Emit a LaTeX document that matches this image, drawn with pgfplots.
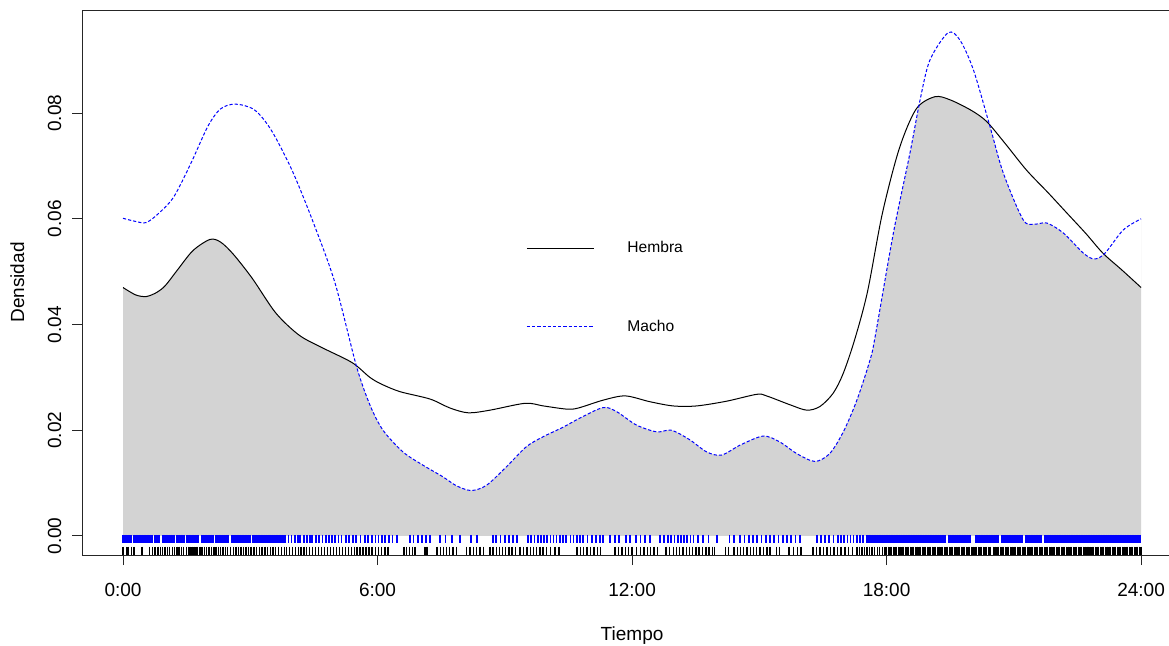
\documentclass[border=0pt]{standalone}
\usepackage{fontspec}
\setmainfont{Liberation Sans}
\usepackage{pgfplots}
\usepackage{pgfplotstable}
\pgfplotsset{compat=1.18}
\usepgfplotslibrary{fillbetween}
\definecolor{olap}{HTML}{D3D3D3}

\pgfplotstableread{
h d
0.00 0.0470
0.30 0.0456
0.55 0.0453
0.80 0.0461
1.00 0.0474
1.30 0.0505
1.65 0.0540
2.05 0.0561
2.30 0.0556
2.60 0.0533
3.05 0.0487
3.60 0.0422
4.15 0.0380
4.70 0.0356
5.40 0.0328
5.82 0.0300
6.10 0.0287
6.53 0.0273
7.24 0.0259
7.71 0.0242
8.14 0.0233
8.65 0.0238
9.48 0.0251
9.91 0.0246
10.46 0.0240
10.73 0.0242
11.32 0.0257
11.84 0.0265
12.42 0.0254
12.97 0.0246
13.52 0.0246
14.23 0.0255
14.94 0.0268
15.17 0.0265
15.73 0.0248
16.12 0.0238
16.43 0.0245
16.74 0.0270
16.98 0.0308
17.25 0.0372
17.55 0.0462
17.90 0.0610
18.30 0.0733
18.70 0.0808
19.14 0.0831
19.50 0.0825
20.00 0.0805
20.36 0.0784
20.80 0.0742
21.30 0.0692
21.80 0.0650
22.25 0.0611
22.70 0.0572
23.10 0.0535
23.55 0.0503
24.00 0.0470
}\hembra

\pgfplotstableread{
h d
0.00 0.0601
0.30 0.0595
0.55 0.0593
0.85 0.0611
1.20 0.0642
1.60 0.0705
2.00 0.0775
2.30 0.0808
2.65 0.0817
3.10 0.0806
3.50 0.0767
4.00 0.0689
4.50 0.0590
5.00 0.0478
5.50 0.0322
5.82 0.0248
6.13 0.0200
6.60 0.0159
7.07 0.0134
7.54 0.0112
7.86 0.0095
8.21 0.0086
8.57 0.0096
9.04 0.0131
9.51 0.0169
9.91 0.0188
10.38 0.0206
10.77 0.0223
11.32 0.0243
11.64 0.0235
12.10 0.0210
12.58 0.0197
12.93 0.0200
13.36 0.0182
13.76 0.0159
14.11 0.0153
14.55 0.0172
15.09 0.0189
15.48 0.0178
15.88 0.0156
16.31 0.0141
16.66 0.0156
16.98 0.0197
17.30 0.0257
17.61 0.0333
17.73 0.0377
18.16 0.0573
18.55 0.0724
18.79 0.0825
19.02 0.0900
19.45 0.0952
19.73 0.0938
20.05 0.0881
20.44 0.0774
20.75 0.0687
21.22 0.0598
21.50 0.0590
21.78 0.0592
22.17 0.0573
22.64 0.0535
22.90 0.0524
23.15 0.0535
23.58 0.0579
24.00 0.0600
}\macho

\pgfplotstableread[row sep=\\]{h\\
0.00\\0.04\\0.07\\0.11\\0.15\\0.19\\0.26\\0.30\\0.34\\0.37\\0.41\\0.45\\0.49\\0.52\\0.56\\0.60\\0.64\\0.68\\0.75\\0.79\\0.83\\0.86\\0.94\\0.98\\1.02\\1.05\\1.09\\1.13\\1.17\\1.21\\1.28\\1.32\\1.36\\1.40\\1.43\\1.51\\1.55\\1.58\\1.62\\1.66\\1.70\\1.74\\1.77\\1.85\\1.89\\1.93\\1.96\\2.00\\2.04\\2.08\\2.12\\2.19\\2.23\\2.27\\2.30\\2.34\\2.38\\2.42\\2.46\\2.49\\2.57\\2.61\\2.65\\2.68\\2.72\\2.76\\2.80\\2.84\\2.87\\2.91\\2.95\\2.99\\3.06\\3.10\\3.14\\3.18\\3.22\\3.25\\3.29\\3.33\\3.37\\3.41\\3.44\\3.48\\3.52\\3.56\\3.60\\3.63\\3.67\\3.71\\3.75\\3.79\\3.83\\3.90\\3.97\\4.05\\4.12\\4.18\\4.26\\4.33\\4.40\\4.46\\4.55\\4.62\\4.70\\4.78\\4.86\\4.92\\5.00\\5.08\\5.15\\5.25\\5.33\\5.42\\5.50\\5.60\\5.70\\5.78\\5.87\\5.95\\6.02\\6.10\\6.18\\6.27\\6.35\\6.46\\6.77\\6.85\\6.95\\7.05\\7.15\\7.24\\7.47\\7.60\\7.75\\7.95\\8.20\\8.34\\8.72\\8.80\\8.90\\9.00\\9.10\\9.20\\9.29\\9.55\\9.62\\9.70\\9.78\\9.85\\9.92\\10.00\\10.08\\10.15\\10.22\\10.30\\10.38\\10.45\\10.55\\10.62\\10.70\\10.77\\10.85\\10.95\\11.05\\11.15\\11.25\\11.32\\11.48\\11.60\\11.70\\11.85\\11.95\\12.10\\12.20\\12.30\\12.42\\12.66\\12.75\\12.85\\12.92\\13.00\\13.08\\13.15\\13.22\\13.30\\13.38\\13.45\\13.56\\13.67\\13.80\\14.00\\14.30\\14.40\\14.55\\14.65\\14.75\\14.85\\14.95\\15.05\\15.15\\15.25\\15.35\\15.45\\15.55\\15.65\\15.75\\15.85\\15.96\\16.36\\16.45\\16.55\\16.65\\16.75\\16.85\\16.92\\17.00\\17.08\\17.15\\17.22\\17.30\\17.38\\17.45\\17.54\\17.58\\17.62\\17.66\\17.70\\17.74\\17.78\\17.82\\17.86\\17.90\\17.94\\17.98\\18.02\\18.06\\18.10\\18.14\\18.18\\18.22\\18.26\\18.30\\18.34\\18.38\\18.42\\18.46\\18.50\\18.54\\18.58\\18.62\\18.66\\18.70\\18.74\\18.78\\18.82\\18.86\\18.90\\18.94\\18.98\\19.02\\19.06\\19.10\\19.14\\19.18\\19.22\\19.26\\19.30\\19.34\\19.38\\19.46\\19.50\\19.54\\19.58\\19.62\\19.66\\19.70\\19.74\\19.78\\19.82\\19.86\\19.90\\19.94\\19.98\\20.10\\20.14\\20.18\\20.22\\20.26\\20.30\\20.34\\20.38\\20.42\\20.46\\20.50\\20.54\\20.58\\20.62\\20.72\\20.76\\20.80\\20.84\\20.88\\20.92\\20.96\\21.00\\21.04\\21.08\\21.12\\21.16\\21.20\\21.28\\21.32\\21.36\\21.40\\21.44\\21.48\\21.52\\21.56\\21.60\\21.64\\21.74\\21.78\\21.82\\21.86\\21.90\\21.94\\21.98\\22.02\\22.06\\22.10\\22.14\\22.18\\22.22\\22.26\\22.30\\22.34\\22.38\\22.42\\22.46\\22.50\\22.54\\22.58\\22.62\\22.66\\22.70\\22.74\\22.78\\22.82\\22.86\\22.90\\22.94\\22.98\\23.02\\23.06\\23.10\\23.14\\23.18\\23.22\\23.26\\23.30\\23.34\\23.38\\23.42\\23.46\\23.50\\23.54\\23.58\\23.62\\23.66\\23.70\\23.74\\23.78\\23.82\\23.86\\23.90\\23.94\\23.98\\}\rugmacho

\pgfplotstableread[row sep=\\]{h\\
0.00\\0.08\\0.12\\0.20\\0.26\\0.45\\0.62\\0.70\\0.75\\0.82\\0.88\\0.93\\0.99\\1.05\\1.10\\1.16\\1.21\\1.27\\1.32\\1.38\\1.43\\1.49\\1.54\\1.58\\1.63\\1.67\\1.72\\1.76\\1.81\\1.86\\1.92\\1.97\\2.03\\2.08\\2.14\\2.19\\2.25\\2.30\\2.36\\2.42\\2.47\\2.53\\2.60\\2.66\\2.72\\2.78\\2.84\\2.90\\2.96\\3.02\\3.09\\3.15\\3.22\\3.28\\3.35\\3.41\\3.48\\3.54\\3.60\\3.67\\3.73\\3.80\\3.86\\3.93\\4.00\\4.06\\4.13\\4.20\\4.27\\4.33\\4.40\\4.47\\4.54\\4.61\\4.68\\4.75\\4.82\\4.89\\4.96\\5.03\\5.10\\5.17\\5.24\\5.31\\5.38\\5.45\\5.52\\5.59\\5.66\\5.73\\5.80\\5.87\\5.95\\6.02\\6.10\\6.18\\6.25\\6.62\\6.68\\6.75\\6.82\\6.88\\7.10\\7.14\\7.18\\7.40\\7.48\\7.55\\7.63\\7.70\\7.78\\7.86\\8.10\\8.18\\8.26\\8.33\\8.42\\8.50\\8.65\\8.72\\8.80\\8.87\\8.95\\9.02\\9.10\\9.17\\9.25\\9.36\\9.44\\9.52\\9.60\\9.68\\9.75\\9.83\\9.90\\9.99\\10.08\\10.18\\10.28\\10.70\\10.78\\10.86\\10.94\\11.02\\11.10\\11.18\\11.26\\11.60\\11.68\\11.76\\11.84\\11.92\\12.00\\12.10\\12.20\\12.28\\12.36\\12.44\\12.52\\12.60\\12.80\\12.88\\12.97\\13.05\\13.12\\13.20\\13.28\\13.35\\13.43\\13.51\\13.58\\13.66\\13.74\\13.81\\13.89\\13.95\\14.20\\14.28\\14.40\\14.48\\14.56\\14.63\\14.71\\14.79\\14.86\\14.94\\15.02\\15.10\\15.18\\15.25\\15.40\\15.48\\15.70\\15.80\\15.90\\15.98\\16.27\\16.35\\16.43\\16.51\\16.60\\16.68\\16.76\\16.85\\16.93\\17.02\\17.10\\17.20\\17.30\\17.36\\17.42\\17.48\\17.54\\17.60\\17.66\\17.72\\17.78\\17.84\\17.90\\17.96\\18.00\\18.04\\18.08\\18.12\\18.16\\18.20\\18.24\\18.28\\18.32\\18.36\\18.40\\18.44\\18.48\\18.52\\18.56\\18.60\\18.64\\18.68\\18.72\\18.76\\18.80\\18.84\\18.88\\18.92\\18.96\\19.00\\19.04\\19.08\\19.12\\19.16\\19.20\\19.24\\19.28\\19.32\\19.36\\19.40\\19.44\\19.48\\19.52\\19.56\\19.60\\19.64\\19.68\\19.72\\19.76\\19.80\\19.84\\19.88\\19.92\\19.96\\20.00\\20.04\\20.08\\20.12\\20.16\\20.20\\20.24\\20.28\\20.32\\20.36\\20.40\\20.44\\20.52\\20.56\\20.60\\20.64\\20.68\\20.72\\20.76\\20.80\\20.84\\20.88\\20.92\\20.96\\21.00\\21.04\\21.08\\21.12\\21.16\\21.20\\21.24\\21.28\\21.32\\21.36\\21.40\\21.44\\21.48\\21.52\\21.56\\21.60\\21.64\\21.68\\21.72\\21.76\\21.80\\21.84\\21.88\\21.92\\21.96\\22.00\\22.04\\22.08\\22.12\\22.16\\22.20\\22.24\\22.28\\22.32\\22.36\\22.40\\22.44\\22.48\\22.52\\22.56\\22.60\\22.64\\22.68\\22.72\\22.76\\22.80\\22.84\\22.88\\22.92\\22.96\\23.00\\23.04\\23.08\\23.12\\23.16\\23.20\\23.24\\23.28\\23.32\\23.36\\23.40\\23.44\\23.48\\23.52\\23.56\\23.60\\23.64\\23.68\\23.72\\23.76\\23.80\\23.84\\23.88\\23.92\\23.96\\24.00\\}\rughembra

\begin{document}
\begin{tikzpicture}
\begin{axis}[
  scale only axis, width=549.76pt, height=272.5pt,
  xmin=-0.96, xmax=24.96, ymin=-0.0036, ymax=0.0995,
  axis on top,
  axis line style={black!85, line width=0.5pt},
  xtick={0,6,12,18,24}, xticklabels={0:00,6:00,12:00,18:00,24:00},
  ytick={0,0.02,0.04,0.06,0.08}, yticklabels={0.00,0.02,0.04,0.06,0.08},
  scaled y ticks=false,
  tick pos=left, tick align=outside, major tick length=5pt,
  major tick style={black!85, line width=0.5pt},
  font=\fontsize{9.5}{11}\selectfont,
  ticklabel style={font=\fontsize{9.5}{11}\selectfont},
  xticklabel style={anchor=center, yshift=-12.5pt},
  yticklabel style={xshift=-8.85pt, rotate=90, anchor=center},
  xlabel={Tiempo}, ylabel={Densidad},
  every axis x label/.style={at={(axis description cs:0.5,-0.1486)}, anchor=center},
  every axis y label/.style={at={(axis description cs:-0.0590,0.5)}, rotate=90, anchor=center},
  legend style={draw=none, fill=none, at={(axis cs:9.5,0.0558)}, anchor=north west,
    inner sep=0pt, row sep=32pt, column sep=16.5pt,
    nodes={inner sep=0pt, font=\fontsize{7.8}{9}\selectfont}},
  legend cell align=left,
  legend image code/.code={\draw[#1] (0pt,0pt) -- (33.5pt,0pt);},
]
\addplot[draw=none, name path=H, smooth, forget plot] table[x=h, y=d] {\hembra};
\addplot[draw=none, name path=M, smooth, forget plot] table[x=h, y=d] {\macho};
\addplot[draw=none, name path=Z, forget plot] coordinates {(0,0) (24,0)};
\addplot[draw=none, name path=T, forget plot] coordinates {(0,0.0995) (24,0.0995)};
\addplot[olap, forget plot] fill between[of=M and Z];
\addplot[white, forget plot] fill between[of=H and T];

\addplot[blue, only marks, mark=|, mark size=2pt, mark options={line width=0.85pt}, forget plot]
  table[x index=0, y index=0, y expr=-0.00055] {\rugmacho};
\addplot[black, only marks, mark=|, mark size=2.1pt, mark options={line width=0.7pt}, forget plot]
  table[x index=0, y index=0, y expr=-0.0028] {\rughembra};

\addplot[black, line width=0.5pt, smooth] table[x=h, y=d] {\hembra};
\addlegendentry{Hembra}
\addplot[blue, line width=0.5pt, dash pattern=on 1.6pt off 1pt, smooth] table[x=h, y=d] {\macho};
\addlegendentry{Macho}
\end{axis}
\pgfresetboundingbox
\useasboundingbox (-41.15pt,-45pt) rectangle (543.35pt,277.5pt);
\end{tikzpicture}
\end{document}
